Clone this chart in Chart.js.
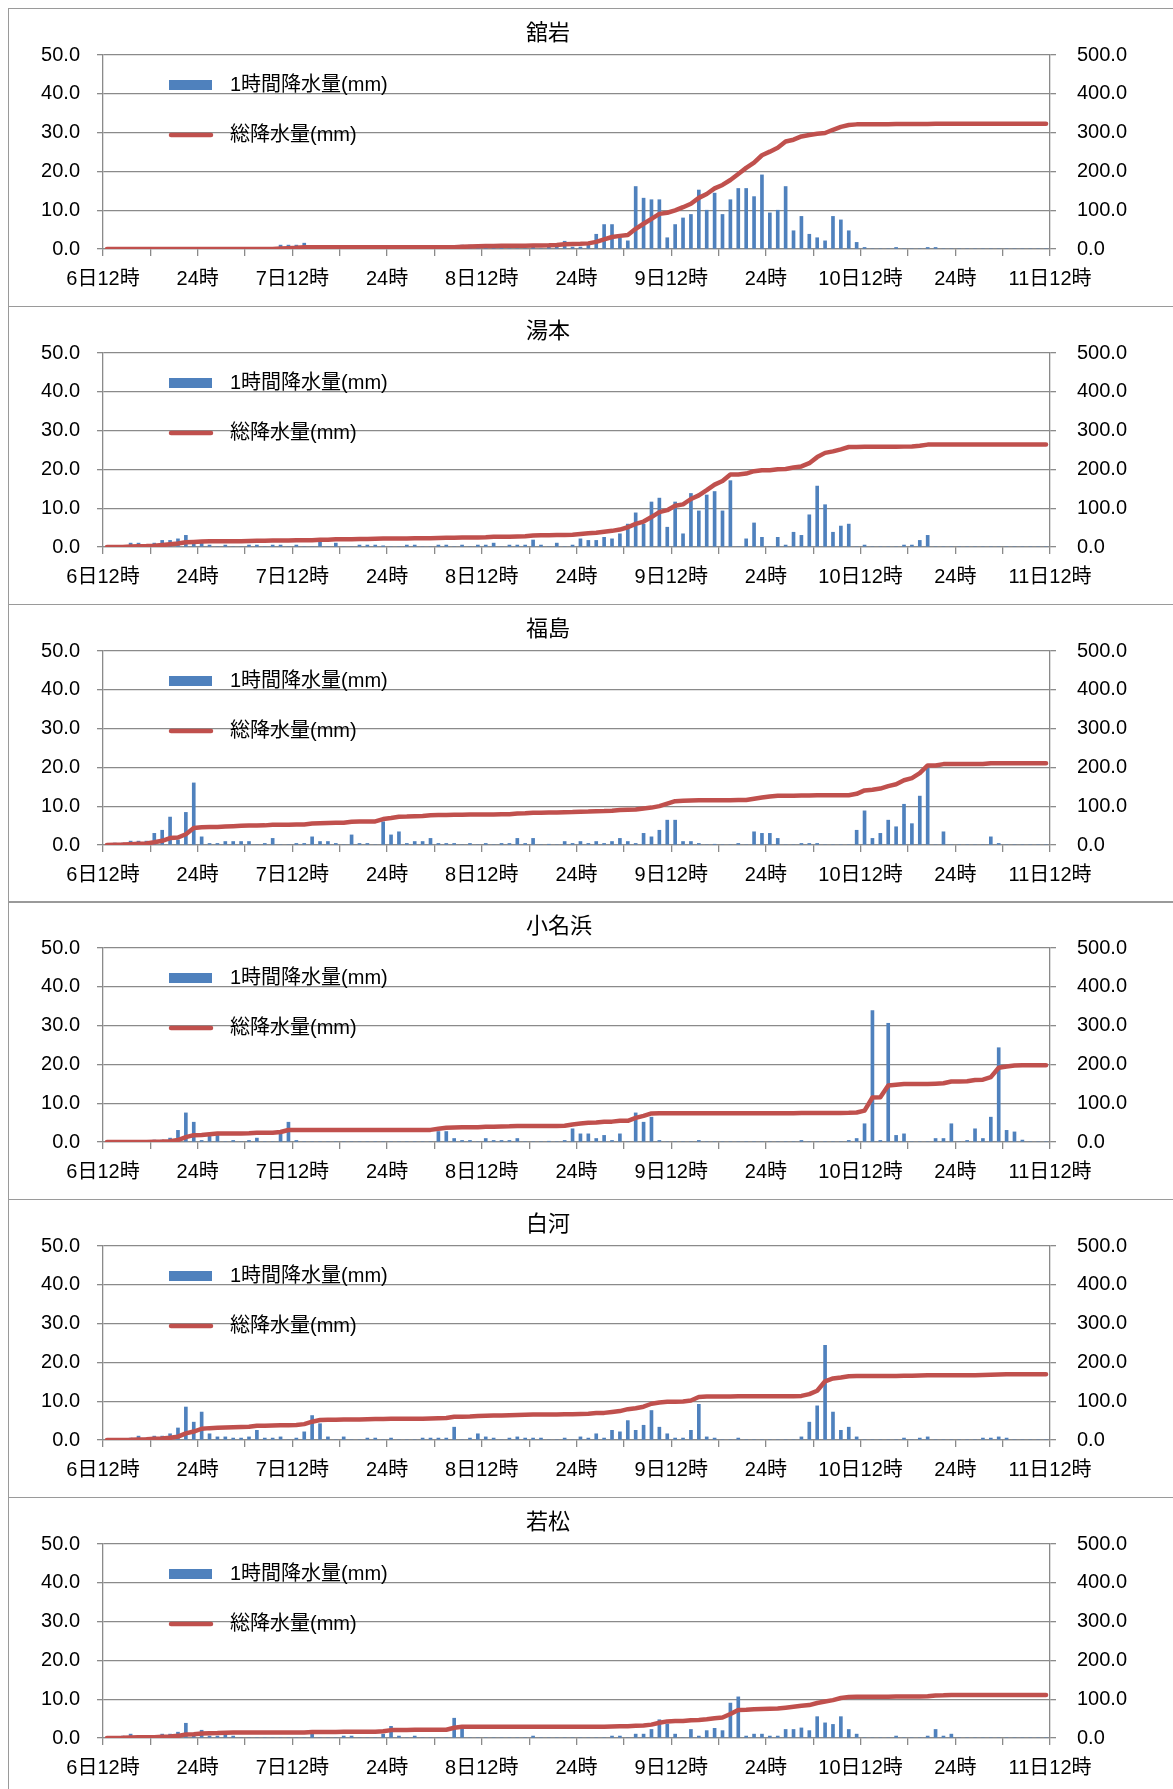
<!DOCTYPE html>
<html><head><meta charset="utf-8">
<script src="https://cdn.jsdelivr.net/npm/chart.js@4/dist/chart.umd.min.js"></script>
<style>
html,body{margin:0;padding:0;background:#fff;}
body{width:1173px;height:1789px;position:relative;overflow:hidden;}
.frame{position:absolute;box-sizing:border-box;border:1px solid #9a9a9a;}
canvas{position:absolute;}
</style></head>
<body>
<script>
const stations = ['舘岩','湯本','福島','小名浜','白河','若松'];
const tickLabels = ['6日12時','24時','7日12時','24時','8日12時','24時','9日12時','24時','10日12時','24時','11日12時'];
const legendBar = '1時間降水量(mm)';
const legendLine = '総降水量(mm)';

// hourly rainfall (mm), 120 hours from 6日12時
const hourlyTateiwa = [
0,0,0,0,0,0,0,0,0,0,0,0,
0,0,0,0,0,0,0,0,0,0,1.0,1.0,
1.0,1.5,0,0,0,0,0,0,0,0,0,0,
0,0,0,0,0,0,0,0,0,1.0,1.0,0.5,
0.5,0.5,0.5,0,0,0,0.5,0,0.5,1.0,2.0,0.5,
0.5,1.0,3.8,6.3,6.3,2.9,2.1,16.1,13.1,12.7,12.7,2.9,
6.3,8.0,8.9,15.2,10.0,14.4,8.9,12.7,15.6,15.6,13.5,19.1,
9.3,10.0,16.1,4.7,8.4,3.8,2.9,2.1,8.4,7.5,4.7,1.7,
0.4,0,0,0,0.4,0,0,0,0.4,0.4,0,0,
0,0,0,0,0,0,0,0,0,0,0,0];
const totalTateiwa = [
0,0,0,0,0,0,0,0,0,0,0,0,
0,0,0,0,0,0,0,0,0,0,1.0,2.0,
3.0,4.5,4.5,4.5,4.5,4.5,4.5,4.5,4.5,4.5,4.5,4.5,
4.5,4.5,4.5,4.5,4.5,4.5,4.5,4.5,4.5,5.5,6.5,7.0,
7.5,8.0,8.5,8.5,8.5,8.5,9.0,9.0,9.5,10.5,12.5,13.0,
13.5,14.5,18.3,24.6,30.9,33.8,35.9,52.0,65.1,77.8,90.5,93.4,
99.7,107.7,116.6,131.8,141.8,156.2,165.1,177.8,193.4,209.0,222.5,241.6,
250.9,260.9,277.0,281.7,290.1,293.9,296.8,298.9,307.3,314.8,319.5,321.2,
321.6,321.6,321.6,321.6,322.0,322.0,322.0,322.0,322.4,322.8,322.8,322.8,
322.8,322.8,322.8,322.8,322.8,322.8,322.8,322.8,322.8,322.8,322.8,322.8];

const hourlyYumoto = [
0,0,0,1.0,1.0,0.5,1.0,1.7,1.7,2.1,3.0,1.0,
1.0,0.5,0,0.5,0,0,0.5,0.5,0,0.5,0.5,0,
0.5,0,0,1.4,0,1.0,0,0,0.5,0.5,0.5,0.3,
0,0,0.5,0.5,0,0,0.5,0.5,0,0.5,0,0.5,
0.5,1.0,0,0.5,0.5,0.5,1.8,0.5,0,1.0,0,0.5,
2.1,1.7,1.7,2.5,2.1,3.4,5.9,8.8,5.9,11.6,12.6,5.1,
11.6,3.4,13.8,9.3,13.4,14.3,9.3,17.1,0,2.1,6.2,2.5,
0,2.5,0.5,3.8,3.0,8.3,15.7,10.9,3.8,5.4,5.9,0,
0.5,0,0,0,0,0.5,0.5,1.7,3.0,0,0,0,
0,0,0,0,0,0,0,0,0,0,0,0];
const totalYumoto = [
0,0,0,1.0,2.0,2.5,3.5,5.2,6.9,9.0,12.0,13.0,
14.0,14.5,14.5,15.0,15.0,15.0,15.5,16.0,16.0,16.5,17.0,17.0,
17.5,17.5,17.5,18.9,18.9,19.9,19.9,19.9,20.4,20.9,21.4,21.7,
21.7,21.7,22.2,22.7,22.7,22.7,23.2,23.7,23.7,24.2,24.2,24.7,
25.2,26.2,26.2,26.7,27.2,27.7,29.5,30.0,30.0,31.0,31.0,31.5,
33.6,35.3,37.0,39.5,41.6,45.0,50.9,59.7,65.6,77.2,89.8,94.9,
106.5,109.9,123.7,133.0,146.4,160.7,170.0,187.1,187.1,189.2,195.4,197.9,
197.9,200.4,200.9,204.7,207.7,216.0,231.7,242.6,246.4,251.8,257.7,257.7,
258.2,258.2,258.2,258.2,258.2,258.7,259.2,260.9,263.9,263.9,263.9,263.9,
263.9,263.9,263.9,263.9,263.9,263.9,263.9,263.9,263.9,263.9,263.9,263.9];

const hourlyFukushima = [
0,0.5,0.5,1.0,1.0,1.0,3.0,3.8,7.2,1.3,8.4,16.0,
2.1,0.4,0.4,0.9,0.9,0.9,0.9,0,0.4,1.7,0,0,
0.4,0.4,2.1,0.9,0.9,0.4,0,2.6,0.4,0.4,0,6.0,
2.6,3.4,0.4,0.9,0.9,1.7,0.4,0.4,0.4,0,0.4,0,
0.4,0,0.4,0.4,1.7,0.4,1.7,0,0.2,0,0.9,0.4,
0.9,0.4,0.9,0.4,0.9,1.7,0.9,0.4,3.0,2.1,3.8,6.4,
6.4,0.9,0.9,0.4,0,0.2,0,0,0.4,0,3.4,3.0,
3.0,1.7,0,0,0.4,0.4,0.4,0,0,0,0,3.8,
8.8,1.7,3.0,6.4,4.7,10.5,5.5,12.6,20.0,0,3.4,0,
0,0,0,0,2.1,0.4,0,0,0,0,0,0];
const totalFukushima = [
0,0.5,1.0,2.0,3.0,4.0,7.0,10.8,18.0,19.3,27.7,43.7,
45.8,46.2,46.6,47.5,48.4,49.3,50.2,50.2,50.6,52.3,52.3,52.3,
52.7,53.1,55.2,56.1,57.0,57.4,57.4,60.0,60.4,60.8,60.8,66.8,
69.4,72.8,73.2,74.1,75.0,76.7,77.1,77.5,77.9,77.9,78.3,78.3,
78.7,78.7,79.1,79.5,81.2,81.6,83.3,83.3,83.5,83.5,84.4,84.8,
85.7,86.1,87.0,87.4,88.3,90.0,90.9,91.3,94.3,96.4,100.2,106.6,
113.0,113.9,114.8,115.2,115.2,115.4,115.4,115.4,115.8,115.8,119.2,122.2,
125.2,126.9,126.9,126.9,127.3,127.7,128.1,128.1,128.1,128.1,128.1,131.9,
140.7,142.4,145.4,151.8,156.5,167.0,172.5,185.1,205.1,205.1,208.5,208.5,
208.5,208.5,208.5,208.5,210.6,211.0,211.0,211.0,211.0,211.0,211.0,211.0];

const hourlyOnahama = [
0,0,0,0,0,0,0.5,0.5,1.0,3.0,7.5,5.1,
0.4,2.1,1.7,0,0.4,0,0.4,1.0,0,0,2.1,5.1,
0.4,0,0,0,0,0,0,0,0,0,0,0,
0,0,0,0,0,0,2.7,2.7,0.9,0.4,0.4,0,
0.9,0.4,0.4,0.4,0.9,0,0,0,0.2,0,0.4,3.4,
2.1,2.1,0.9,1.7,0.4,2.1,0,7.5,5.1,6.4,0.4,0,
0,0,0,0.4,0,0,0,0,0,0,0,0,
0,0,0,0,0.4,0,0,0,0,0,0.4,0.9,
4.7,33.9,0.4,30.6,1.7,2.1,0,0,0,0.9,0.9,4.7,
0,0.4,3.4,0.9,6.4,24.3,3.0,2.6,0.5,0,0,0];
const totalOnahama = [
0,0,0,0,0,0,0.5,1.0,2.0,5.0,12.5,17.6,
18.0,20.1,21.8,21.8,22.2,22.2,22.6,23.6,23.6,23.6,25.7,30.8,
31.2,31.2,31.2,31.2,31.2,31.2,31.2,31.2,31.2,31.2,31.2,31.2,
31.2,31.2,31.2,31.2,31.2,31.2,33.9,36.6,37.5,37.9,38.3,38.3,
39.2,39.6,40.0,40.4,41.3,41.3,41.3,41.3,41.5,41.5,41.9,45.3,
47.4,49.5,50.4,52.1,52.5,54.6,54.6,62.1,67.2,73.6,74.0,74.0,
74.0,74.0,74.0,74.4,74.4,74.4,74.4,74.4,74.4,74.4,74.4,74.4,
74.4,74.4,74.4,74.4,74.8,74.8,74.8,74.8,74.8,74.8,75.2,76.1,
80.8,114.7,115.1,145.7,147.4,149.5,149.5,149.5,149.5,150.4,151.3,156.0,
156.0,156.4,159.8,160.7,167.1,191.4,194.4,197.0,197.5,197.5,197.5,197.5];

const hourlyShirakawa = [
0,0,0,0.5,1.0,0.5,1.0,1.0,1.6,3.1,8.5,4.6,
7.2,1.6,0.8,0.8,0.5,0.5,0.8,2.5,0.5,0.5,0.8,0,
0.5,2.1,6.3,4.2,0.8,0,0.8,0,0,0.5,0.5,0,
0.5,0,0,0,0.5,0.5,0.5,0.5,3.3,0,0.5,1.6,
0.8,0.5,0,0.5,0.8,0.5,0.5,0.5,0,0,0.5,0,
0.8,0.5,1.6,0.5,2.5,2.1,5.0,2.5,3.8,7.6,3.3,1.6,
0.5,0.5,2.5,9.2,0.8,0.5,0,0,0.5,0,0,0,
0,0,0,0,0.8,4.6,8.8,24.4,7.2,2.5,3.3,0.8,
0,0,0,0,0,0.5,0,0.5,0.8,0,0,0,
0,0,0,0.5,0.5,0.8,0.5,0,0,0,0,0];
const totalShirakawa = [
0,0,0,0.5,1.5,2.0,3.0,4.0,5.6,8.7,17.2,21.8,
29.0,30.6,31.4,32.2,32.7,33.2,34.0,36.5,37.0,37.5,38.3,38.3,
38.8,40.9,47.2,51.4,52.2,52.2,53.0,53.0,53.0,53.5,54.0,54.0,
54.5,54.5,54.5,54.5,55.0,55.5,56.0,56.5,59.8,59.8,60.3,61.9,
62.7,63.2,63.2,63.7,64.5,65.0,65.5,66.0,66.0,66.0,66.5,66.5,
67.3,67.8,69.4,69.9,72.4,74.5,79.5,82.0,85.8,93.4,96.7,98.3,
98.8,99.3,101.8,111.0,111.8,112.3,112.3,112.3,112.8,112.8,112.8,112.8,
112.8,112.8,112.8,112.8,113.6,118.2,127.0,151.4,158.6,161.1,164.4,165.2,
165.2,165.2,165.2,165.2,165.2,165.7,165.7,166.2,167.0,167.0,167.0,167.0,
167.0,167.0,167.0,167.5,168.0,168.8,169.3,169.3,169.3,169.3,169.3,169.3];

const hourlyWakamatsu = [
0,0,0.5,1.0,0.5,0,0,1.0,1.0,1.5,3.8,0.5,
2.0,0.5,0.5,1.0,0.5,0,0,0,0,0,0,0,
0,0,1.0,0,0,0,0.5,0.5,0,0,0,1.0,
3.0,0.5,0,0.5,0,0,0,0,5.1,2.4,0,0,
0,0,0,0,0,0,0.5,0,0,0,0,0,
0,0,0,0,0.5,0.5,0,1.0,1.0,2.2,4.7,3.6,
1.0,0,2.2,0.5,1.9,2.5,1.9,9.0,10.6,0.5,1.0,1.0,
0.5,0.5,2.2,2.2,2.6,1.9,5.5,3.9,3.5,5.5,2.2,1.0,
0,0,0,0,0.5,0,0,0,0.5,2.2,0.5,1.0,
0,0,0,0,0,0,0,0,0,0,0,0];
const totalWakamatsu = [
0,0,0.5,1.5,2.0,2.0,2.0,3.0,4.0,5.5,9.3,9.8,
11.8,12.3,12.8,13.8,14.3,14.3,14.3,14.3,14.3,14.3,14.3,14.3,
14.3,14.3,15.3,15.3,15.3,15.3,15.8,16.3,16.3,16.3,16.3,17.3,
20.3,20.8,20.8,21.3,21.3,21.3,21.3,21.3,26.4,28.8,28.8,28.8,
28.8,28.8,28.8,28.8,28.8,28.8,29.3,29.3,29.3,29.3,29.3,29.3,
29.3,29.3,29.3,29.3,29.8,30.3,30.3,31.3,32.3,34.5,39.2,42.8,
43.8,43.8,46.0,46.5,48.4,50.9,52.8,61.8,72.4,72.9,73.9,74.9,
75.4,75.9,78.1,80.3,82.9,84.8,90.3,94.2,97.7,103.2,105.4,106.4,
106.4,106.4,106.4,106.4,106.9,106.9,106.9,106.9,107.4,109.6,110.1,111.1,
111.1,111.1,111.1,111.1,111.1,111.1,111.1,111.1,111.1,111.1,111.1,111.1];

const hourlySeries = [hourlyTateiwa, hourlyYumoto, hourlyFukushima, hourlyOnahama, hourlyShirakawa, hourlyWakamatsu];
const totalSeries = [totalTateiwa, totalYumoto, totalFukushima, totalOnahama, totalShirakawa, totalWakamatsu];

const FONT = "'Liberation Sans','Noto Sans CJK JP',sans-serif";
const CJK = "'Noto Sans CJK JP','Liberation Sans',sans-serif";
const GRID = '#8a8a8a';
const BAR = '#4f81bd';
const LINE = '#c0504d';
const PANEL_STEP = 297.8, PANEL_TOP = 9, W = 1164, H = 297;

const overlay = {
  id: 'overlay',
  afterDraw(chart) {
    const c = chart.ctx;
    const name = chart.options.plugins.overlay.title;
    c.save();
    c.fillStyle = '#000';
    c.textBaseline = 'middle';
    c.textAlign = 'left';
    c.font = '22px ' + CJK;
    c.fillText(name, 517, 23);
    // legend
    c.fillStyle = BAR;
    c.fillRect(160, 71, 43, 10);
    c.strokeStyle = LINE;
    c.lineWidth = 4.5;
    c.lineCap = 'round';
    c.beginPath(); c.moveTo(162, 126); c.lineTo(202, 126); c.stroke();
    c.fillStyle = '#000';
    c.font = '20px ' + FONT;
    c.fillText(legendBar, 221, 76);
    c.fillText(legendLine, 221, 126);
    c.restore();
  }
};

stations.forEach((name, k) => {
  const top = Math.round(PANEL_TOP + PANEL_STEP * k);
  const fr = document.createElement('div');
  fr.className = 'frame';
  fr.style.left = '8px'; fr.style.top = (top - 1) + 'px';
  fr.style.width = '1200px'; fr.style.height = '299px';
  document.body.appendChild(fr);
  const cv = document.createElement('canvas');
  cv.width = W; cv.height = H;
  cv.style.left = '9px'; cv.style.top = top + 'px';
  cv.style.width = W + 'px'; cv.style.height = H + 'px';
  document.body.appendChild(cv);

  const hourly = hourlySeries[k].map((v, i) => ({x: i + 0.5, y: v}));
  const total = totalSeries[k].map((v, i) => ({x: i + 0.5, y: v}));

  new Chart(cv.getContext('2d'), {
    data: {
      datasets: [
        {type: 'line', label: legendLine, data: total, yAxisID: 'y2', borderColor: LINE,
         borderWidth: 4.5, pointRadius: 0, tension: 0, borderJoinStyle: 'round', borderCapStyle: 'round', order: 0},
        {type: 'bar', label: legendBar, data: hourly, yAxisID: 'y', backgroundColor: BAR,
         barThickness: 3, order: 1}
      ]
    },
    options: {
      animation: false, responsive: false, devicePixelRatio: 1,
      layout: {padding: {top: 46, left: 0, right: 0, bottom: 0}},
      plugins: {legend: {display: false}, tooltip: {enabled: false}, overlay: {title: name}},
      scales: {
        x: {
          type: 'linear', min: 0, max: 120, offset: false,
          afterFit(s) { s.height = 57; },
          grid: {offset: false, drawOnChartArea: false, drawTicks: true, tickLength: 7, color: GRID, lineWidth: 1.3},
          border: {display: true, color: GRID, width: 1.3},
          ticks: {stepSize: 6, autoSkip: false, maxRotation: 0, padding: 11, color: '#000',
                  font: {family: FONT, size: 20},
                  callback: (v) => (v % 12 === 0 ? tickLabels[v / 12] : '')}
        },
        y: {
          position: 'left', min: 0, max: 50,
          afterFit(s) { s.width = 94; },
          grid: {color: GRID, lineWidth: 1.3, tickLength: 6},
          border: {display: true, color: GRID, width: 1.3},
          ticks: {stepSize: 10, padding: 17, color: '#000', font: {family: FONT, size: 20},
                  callback: (v) => v.toFixed(1)}
        },
        y2: {
          position: 'right', min: 0, max: 500,
          afterFit(s) { s.width = 123; },
          grid: {drawOnChartArea: false, color: GRID, lineWidth: 1.3, tickLength: 6},
          border: {display: true, color: GRID, width: 1.3},
          ticks: {stepSize: 100, padding: 21, color: '#000', font: {family: FONT, size: 20},
                  callback: (v) => v.toFixed(1)}
        }
      }
    },
    plugins: [overlay]
  });
});
</script>
</body></html>
